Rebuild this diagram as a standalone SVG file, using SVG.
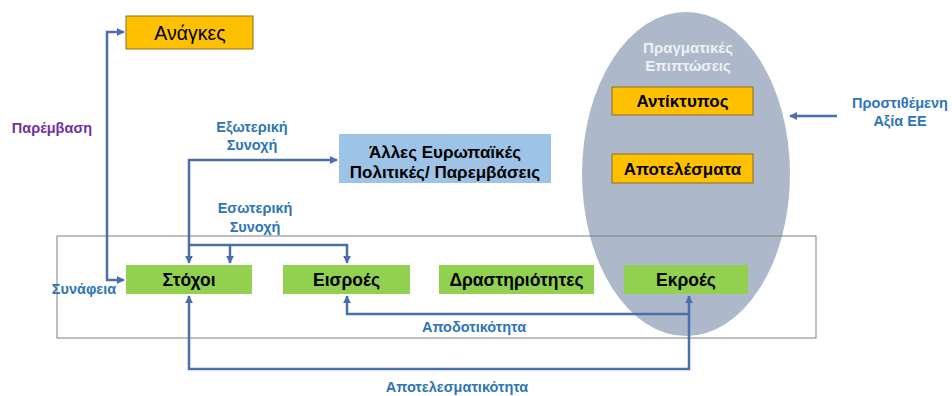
<svg xmlns="http://www.w3.org/2000/svg" width="952" height="396" viewBox="0 0 952 396">
<style>
  .orange { fill: #FFC000; stroke: #8C6D1F; stroke-width: 1; }
  .green { fill: #92D050; }
  .blue { fill: #9DC3E6; }
  .lbl { font-family: "Liberation Sans", Arial, sans-serif; font-weight: bold; fill: #000; text-anchor: middle; }
  .note { font-family: "Liberation Sans", Arial, sans-serif; font-weight: bold; fill: #2E75B6; text-anchor: middle; font-size: 14.5px; }
  .conn { fill: none; stroke: #4A6FAE; stroke-width: 2.5; }
</style>
<defs>
  <marker id="ah" viewBox="0 0 10 10" refX="9" refY="5" markerWidth="3.2" markerHeight="3.2" orient="auto-start-reverse">
    <path d="M0,0 L10,5 L0,10 z" fill="#4A6FAE"/>
  </marker>
</defs>
<rect width="952" height="396" fill="#FFFFFF"/>

<g id="ellipse">
  <ellipse cx="686" cy="174" rx="104" ry="162" fill="#ADB9CA"/>
  <text x="688" y="53" font-family="Liberation Sans, Arial, sans-serif" font-size="15" font-weight="bold" fill="#EEF0F4" text-anchor="middle">Πραγματικές</text>
  <text x="688" y="71" font-family="Liberation Sans, Arial, sans-serif" font-size="15" font-weight="bold" fill="#EEF0F4" text-anchor="middle">Επιπτώσεις</text>
</g>

<rect id="frame" x="57" y="236" width="759" height="102" fill="none" stroke="#7F7F7F" stroke-width="1"/>

<g id="connectors">
  <path class="conn" d="M124,32 H107 V280 H124" marker-start="url(#ah)" marker-end="url(#ah)"/>
  <path class="conn" d="M189,263 V160 H337" marker-start="url(#ah)" marker-end="url(#ah)"/>
  <path class="conn" d="M189,245 H347 V263" marker-end="url(#ah)"/>
  <path class="conn" d="M230,245 V263" marker-end="url(#ah)"/>
  <path class="conn" d="M689,314 H347 V296" marker-end="url(#ah)"/>
  <path class="conn" d="M189,296 V369 H689 V296" marker-start="url(#ah)" marker-end="url(#ah)"/>
  <path class="conn" d="M837,116 H790" marker-end="url(#ah)"/>
</g>

<g id="anagkes">
  <rect class="orange" x="126" y="16" width="127" height="33"/>
  <text class="lbl" x="190" y="39.5" font-size="19.5" style="font-weight:normal">Ανάγκες</text>
</g>

<g id="alles">
  <rect class="blue" x="339" y="134" width="212" height="49"/>
  <text class="lbl" x="445" y="158" font-size="17">Άλλες Ευρωπαϊκές</text>
  <text class="lbl" x="445" y="178" font-size="17">Πολιτικές/ Παρεμβάσεις</text>
</g>

<g id="antiktypos">
  <rect class="orange" x="612" y="87" width="141" height="28"/>
  <text class="lbl" x="682.5" y="107" font-size="17">Αντίκτυπος</text>
</g>

<g id="apotelesmata">
  <rect class="orange" x="612" y="154" width="141" height="29"/>
  <text class="lbl" x="682.5" y="174.5" font-size="17">Αποτελέσματα</text>
</g>

<g id="stoxoi">
  <rect class="green" x="126" y="265" width="126" height="29"/>
  <text class="lbl" x="189" y="286" font-size="17.5">Στόχοι</text>
</g>

<g id="eisroes">
  <rect class="green" x="283" y="265" width="127" height="29"/>
  <text class="lbl" x="346.5" y="286" font-size="17.5">Εισροές</text>
</g>

<g id="drastiriotites">
  <rect class="green" x="439" y="265" width="155" height="29"/>
  <text class="lbl" x="516.5" y="286" font-size="17.5">Δραστηριότητες</text>
</g>

<g id="ekroes">
  <rect class="green" x="624" y="265" width="124" height="29"/>
  <text class="lbl" x="686" y="286" font-size="17.5">Εκροές</text>
</g>

<g id="labels">
  <text class="note" x="52" y="133" style="fill:#7030A0">Παρέμβαση</text>
  <text class="note" x="252" y="132">Εξωτερική</text>
  <text class="note" x="252" y="150">Συνοχή</text>
  <text class="note" x="255" y="213">Εσωτερική</text>
  <text class="note" x="255" y="232">Συνοχή</text>
  <text class="note" x="84" y="294">Συνάφεια</text>
  <text class="note" x="474" y="332">Αποδοτικότητα</text>
  <text class="note" x="457" y="392">Αποτελεσματικότητα</text>
  <text class="note" x="900" y="108">Προστιθέμενη</text>
  <text class="note" x="900" y="126">Αξία ΕΕ</text>
</g>
</svg>
